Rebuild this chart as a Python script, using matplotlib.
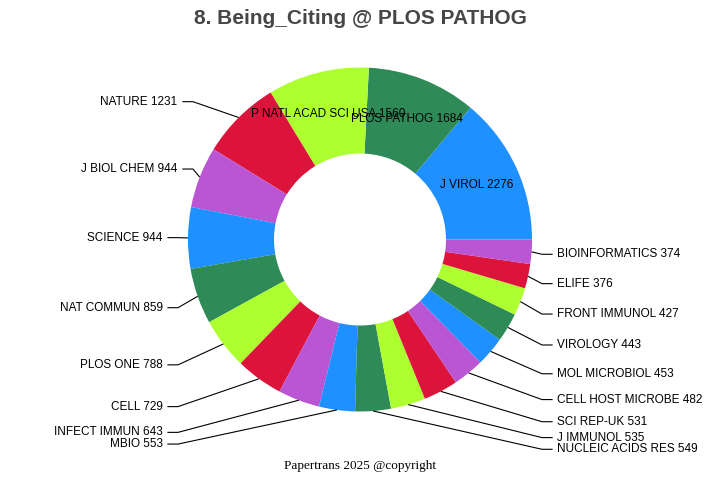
import matplotlib
matplotlib.use('Agg')
import matplotlib.pyplot as plt
import numpy as np

journals = ["J VIROL", "PLOS PATHOG", "P NATL ACAD SCI USA", "NATURE", "J BIOL CHEM",
            "SCIENCE", "NAT COMMUN", "PLOS ONE", "CELL", "INFECT IMMUN", "MBIO",
            "NUCLEIC ACIDS RES", "J IMMUNOL", "SCI REP-UK", "CELL HOST MICROBE",
            "MOL MICROBIOL", "VIROLOGY", "FRONT IMMUNOL", "ELIFE", "BIOINFORMATICS"]
counts = [2276, 1684, 1560, 1231, 944, 944, 859, 788, 729, 643, 553,
          549, 535, 531, 482, 453, 443, 427, 376, 374]
palette = ['#1E90FF', '#2E8B57', '#ADFF2F', '#DC143C', '#BA55D3']
title = "8. Being_Citing @ PLOS PATHOG"
footer = "Papertrans 2025 @copyright"
n_inside = 3

plt.rcParams['font.family'] = ['Liberation Sans', 'DejaVu Sans']

fig = plt.figure(figsize=(7.2, 4.8), dpi=100)
ax = fig.add_axes([0, 0, 1, 1])
R_PX = 172.0
cx_px, cy_px = 360.0, 240.5
colors = [palette[i % len(palette)] for i in range(len(counts))]
wedges, _ = ax.pie(counts, colors=colors, startangle=0, counterclock=True, radius=1,
                   wedgeprops=dict(width=0.5, linewidth=0))
ax.set_xlim(-cx_px / R_PX, (720 - cx_px) / R_PX)
ax.set_ylim(-cy_px / R_PX, (480 - cy_px) / R_PX)
ax.set_aspect('auto')
ax.axis('off')

total = float(sum(counts))
cum = np.cumsum([0] + counts[:-1])
mids = np.deg2rad((cum + np.array(counts) / 2.0) * 360.0 / total)

fs = 8.5
# inside labels
for i in range(n_inside):
    a = mids[i]
    ax.text(0.75 * np.cos(a), 0.75 * np.sin(a), f"{journals[i]} {counts[i]}",
            ha='center', va='center', fontsize=fs, color='black')

# outside labels
right, left = [], []
for i in range(n_inside, len(counts)):
    a = mids[i]
    s = np.sin(a)
    is_left = np.cos(a) < 0
    factor = 1.13 if (is_left and s > 0.1) else 1.2
    y = factor * s
    (left if is_left else right).append([i, y])

gap = 0.068
for side in (right, left):
    side.sort(key=lambda t: -t[1])
    for k in range(1, len(side)):
        if side[k][1] > side[k - 1][1] - gap:
            side[k][1] = side[k - 1][1] - gap

for sign, side in ((1, right), (-1, left)):
    for i, y in side:
        a = mids[i]
        ex = 1.058
        if sign < 0 and y > 0.2:
            ex = 0.971
        hx = ex + 0.062
        tx = hx + 0.028
        px, py = np.cos(a), np.sin(a)
        ax.plot([px, sign * ex, sign * hx], [py, y, y], color='black', lw=0.8,
                solid_capstyle='butt')
        ax.text(sign * tx, y, f"{journals[i]} {counts[i]}",
                ha='left' if sign > 0 else 'right', va='center', fontsize=fs,
                color='black')

fig.text(0.5, 1 - 18 / 480, title, ha='center', va='center', fontsize=15,
         fontweight='bold', color='#464646')
fig.text(0.5, 1 - 466 / 480, footer, ha='center', va='center', fontsize=9.5,
         family=['Liberation Serif', 'DejaVu Serif'], color='black')

fig.savefig('out.png', dpi=100)
